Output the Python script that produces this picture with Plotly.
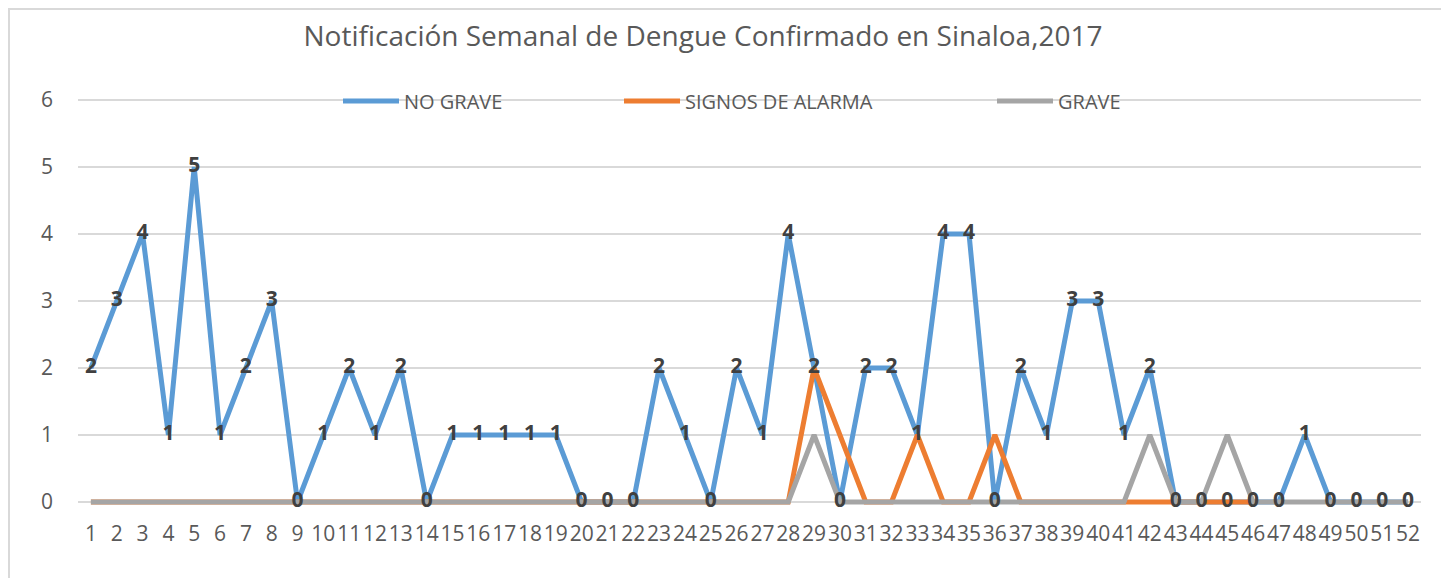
import plotly.graph_objects as go

weeks = [str(i) for i in range(1, 53)]
no_grave = [2, 3, 4, 1, 5, 1, 2, 3, 0, 1, 2, 1, 2, 0, 1, 1, 1, 1, 1, 0,
            0, 0, 2, 1, 0, 2, 1, 4, 2, 0, 2, 2, 1, 4, 4, 0, 2, 1, 3, 3,
            1, 2, 0, 0, 0, 0, 0, 1, 0, 0, 0, 0]
signos_alarma = [0] * 28 + [2, 1, 0, 0, 1, 0, 0, 1, 0, 0, 0, 0, 0, 0, 0, 0, 0, 0]
grave = [0] * 28 + [1, 0, 0, 0, 0, 0, 0, 0, 0, 0, 0, 0, 0, 1, 0, 0, 1, 0, 0, 0, 0, 0, 0, 0]

title = "Notificación Semanal de Dengue Confirmado en Sinaloa,2017"
series_names = ["NO GRAVE", "SIGNOS DE ALARMA", "GRAVE"]
colors = ["#5B9BD5", "#ED7D31", "#A5A5A5"]

# page body has an 8px default margin, so the figure is laid out 8px up/left
W, H = 1441, 570
L, R = 70, 1413
T, B = 88, 498
pw = R - L
ph = B - T

fig = go.Figure()
fig.add_trace(go.Scatter(
    x=weeks, y=no_grave, name=series_names[0], mode="lines",
    line=dict(color=colors[0], width=5), legend="legend"))
fig.add_trace(go.Scatter(
    x=weeks, y=signos_alarma, name=series_names[1], mode="lines",
    line=dict(color=colors[1], width=5), legend="legend2"))
fig.add_trace(go.Scatter(
    x=weeks, y=grave, name=series_names[2], mode="lines",
    line=dict(color=colors[2], width=5), legend="legend3"))
# data labels of NO GRAVE, drawn above all lines
fig.add_trace(go.Scatter(
    x=weeks, y=no_grave, mode="text", showlegend=False, hoverinfo="skip",
    text=[str(v) for v in no_grave], textposition="middle center",
    textfont=dict(family="Open Sans", size=21, color="#404040", weight="bold"),
    cliponaxis=False))

legend_font = dict(family="Open Sans", size=20, color="#595959")
def lg(xpix):
    return dict(x=(xpix - L) / pw, y=(B - 93) / ph, xanchor="left", yanchor="middle",
                orientation="h", font=legend_font, bgcolor="rgba(0,0,0,0)",
                itemwidth=56, tracegroupgap=0)

fig.update_layout(
    width=W, height=H,
    margin=dict(l=L, r=W - R, t=T, b=H - B, autoexpand=False),
    paper_bgcolor="white", plot_bgcolor="white",
    showlegend=True,
    legend=lg(330), legend2=lg(611), legend3=lg(984),
    title=dict(text=title, x=695 / W, xanchor="center", y=1 - 28 / H, yanchor="middle",
               font=dict(family="Open Sans", size=28, color="#595959")),
    xaxis=dict(type="category", range=[-0.5, 51.5], autorange=False,
               showgrid=False, zeroline=False, showline=False,
               ticks="", tickfont=dict(family="Open Sans", size=21, color="#595959"),
               ticklabelstandoff=13, tickangle=0, automargin=False),
    yaxis=dict(range=[-0.06, 6.06], tickvals=[0, 1, 2, 3, 4, 5, 6], showgrid=True,
               gridcolor="#D9D9D9", gridwidth=1.5, zeroline=False, showline=False,
               tickfont=dict(family="Open Sans", size=21, color="#595959"),
               ticklabelstandoff=24, automargin=False),
    shapes=[dict(type="rect", xref="paper", yref="paper",
                 x0=(1 - L) / pw, x1=(1438 - L) / pw,
                 y0=(B - 600) / ph, y1=(B - 1) / ph,
                 line=dict(color="#D9D9D9", width=2), layer="below")],
)

fig.write_html("out.html")
